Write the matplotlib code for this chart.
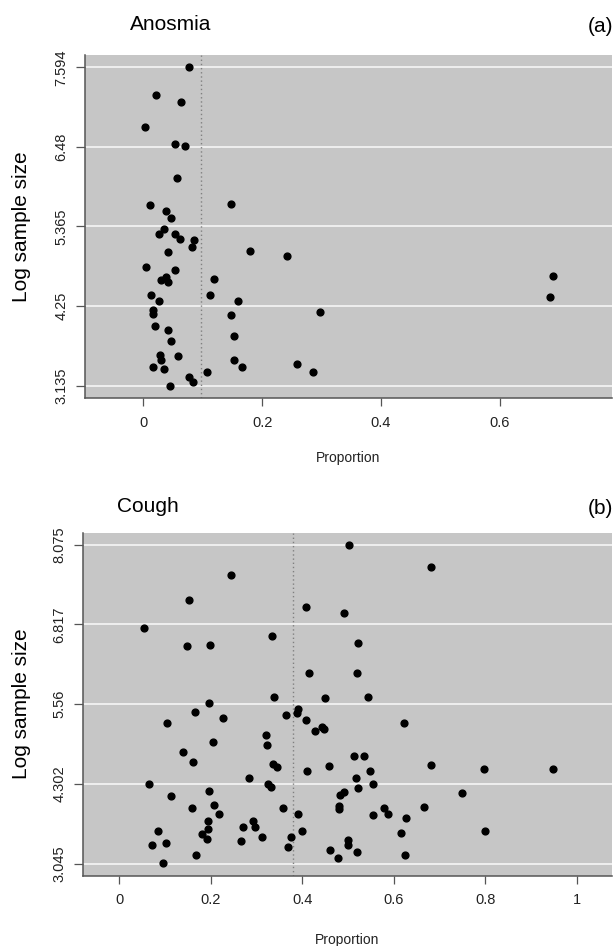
import matplotlib
matplotlib.use("Agg")
import matplotlib.pyplot as plt

plt.rcParams['font.family'] = ['Liberation Sans', 'DejaVu Sans']

# ---------------- data ----------------
anosmia_x = [0.0776, 0.0211, 0.0637, 0.0026, 0.0537, 0.0702, 0.0569, 0.148, 0.0105, 0.0378,
             0.047, 0.035, 0.0265, 0.053, 0.0623, 0.0855, 0.0822, 0.041, 0.1796, 0.242,
             0.0046, 0.053, 0.0298, 0.039, 0.0418, 0.119, 0.6895, 0.684, 0.0131, 0.0271,
             0.112, 0.160, 0.0165, 0.0171, 0.148, 0.2976, 0.0191, 0.041, 0.1524, 0.047,
             0.0285, 0.0577, 0.0305, 0.1524, 0.0165, 0.035, 0.167, 0.259, 0.2865, 0.108,
             0.0776, 0.0835, 0.0444]
anosmia_y = [7.594, 7.206, 7.104, 6.758, 6.524, 6.492, 6.048, 5.684, 5.665, 5.581,
             5.479, 5.333, 5.258, 5.263, 5.193, 5.179, 5.071, 5.001, 5.025, 4.955,
             4.801, 4.754, 4.609, 4.656, 4.586, 4.623, 4.665, 4.376, 4.400, 4.316,
             4.400, 4.325, 4.189, 4.133, 4.123, 4.165, 3.969, 3.909, 3.825, 3.760,
             3.559, 3.555, 3.489, 3.494, 3.401, 3.368, 3.401, 3.434, 3.331, 3.331,
             3.256, 3.181, 3.135]
anosmia_mean = 0.0967
anosmia_yticks = [3.135, 4.25, 5.365, 6.48, 7.594]
anosmia_yticklabels = ["3.135", "4.25", "5.365", "6.48", "7.594"]
anosmia_xticks = [0, 0.2, 0.4, 0.6]
anosmia_xticklabels = ["0", "0.2", "0.4", "0.6"]

cough_x = [0.5026, 0.681, 0.245, 0.154, 0.409, 0.492, 0.0548, 0.3335, 0.148, 0.199,
           0.523, 0.416, 0.5206, 0.3387, 0.451, 0.543, 0.197, 0.392, 0.389, 0.365,
           0.1655, 0.408, 0.228, 0.1045, 0.6218, 0.4288, 0.4434, 0.4478, 0.3207, 0.3233,
           0.2059, 0.1397, 0.161, 0.336, 0.3448, 0.4596, 0.5129, 0.5353, 0.4117, 0.549,
           0.681, 0.7977, 0.9478, 0.283, 0.518, 0.0659, 0.325, 0.331, 0.554, 0.5214,
           0.196, 0.4923, 0.4838, 0.7496, 0.114, 0.2074, 0.1595, 0.3592, 0.480, 0.480,
           0.5798, 0.5867, 0.6655, 0.2177, 0.391, 0.5558, 0.628, 0.1946, 0.2923, 0.1946,
           0.270, 0.2967, 0.0857, 0.3989, 0.7993, 0.181, 0.193, 0.3122, 0.3747, 0.6166,
           0.2666, 0.500, 0.500, 0.0710, 0.1037, 0.3695, 0.4614, 0.5198, 0.1673, 0.6253,
           0.4776, 0.0952]
cough_y = [8.075, 7.728, 7.592, 7.208, 7.097, 7.003, 6.757, 6.631, 6.478, 6.494,
           6.525, 6.047, 6.047, 5.678, 5.662, 5.673, 5.574, 5.478, 5.422, 5.384,
           5.437, 5.311, 5.336, 5.258, 5.269, 5.142, 5.201, 5.169, 5.079, 4.917,
           4.958, 4.800, 4.654, 4.622, 4.564, 4.586, 4.743, 4.743, 4.501, 4.512,
           4.606, 4.543, 4.543, 4.397, 4.397, 4.307, 4.307, 4.249, 4.307, 4.233,
           4.196, 4.181, 4.129, 4.160, 4.118, 3.976, 3.917, 3.917, 3.960, 3.913,
           3.928, 3.834, 3.933, 3.834, 3.834, 3.813, 3.771, 3.723, 3.723, 3.592,
           3.618, 3.618, 3.561, 3.561, 3.561, 3.507, 3.440, 3.471, 3.471, 3.529,
           3.403, 3.413, 3.345, 3.340, 3.372, 3.302, 3.261, 3.224, 3.182, 3.182,
           3.140, 3.050]
cough_mean = 0.381
cough_yticks = [3.045, 4.302, 5.56, 6.817, 8.075]
cough_yticklabels = ["3.045", "4.302", "5.56", "6.817", "8.075"]
cough_xticks = [0, 0.2, 0.4, 0.6, 0.8, 1.0]
cough_xticklabels = ["0", "0.2", "0.4", "0.6", "0.8", "1"]

W, H = 616, 946
fig = plt.figure(figsize=(W / 100, H / 100), dpi=100)

BG = "#c6c6c6"
SPINE = "#555555"


def px_rect(left, top, right, bottom):
    return [left / W, 1 - bottom / H, (right - left) / W, (bottom - top) / H]


def panel(rect, xs, ys, mean, yticks, ylabels, xticks, xlabels, xlim, ylim):
    ax = fig.add_axes(rect)
    ax.set_facecolor(BG)
    ax.set_xlim(*xlim)
    ax.set_ylim(*ylim)
    for yt in yticks:
        ax.axhline(yt, color="#f2f2f2", lw=1.3, zorder=1)
    ax.axvline(mean, color="#808080", lw=1.0, ls=(0, (1, 2)), zorder=2)
    ax.plot(xs, ys, 'o', color="black", markersize=4.9, zorder=3)
    for s in ("top", "right"):
        ax.spines[s].set_visible(False)
    for s in ("left", "bottom"):
        ax.spines[s].set_color(SPINE)
        ax.spines[s].set_linewidth(1.1)
    ax.set_yticks(yticks)
    ax.set_yticklabels(ylabels, rotation=90, va="center", fontsize=10.5, color="#222222")
    ax.set_xticks(xticks)
    ax.set_xticklabels(xlabels, fontsize=10.5, color="#222222")
    ax.tick_params(axis="y", length=6.5, width=0.9, color=SPINE, pad=5.5)
    ax.tick_params(axis="x", length=5.8, width=0.9, color=SPINE, pad=7)
    return ax


# Panel (a)
axa = panel(px_rect(85.3, 55, 612, 398.3), anosmia_x, anosmia_y, anosmia_mean,
            anosmia_yticks, anosmia_yticklabels, anosmia_xticks, anosmia_xticklabels,
            (-0.0976, 0.789), (2.959, 7.766))
# Panel (b)
axb = panel(px_rect(83.3, 532.7, 612, 875.7), cough_x, cough_y, cough_mean,
            cough_yticks, cough_yticklabels, cough_xticks, cough_xticklabels,
            (-0.078, 1.077), (2.856, 8.264))

# Titles and panel letters
fig.text(130 / W, 1 - 25 / H, "Anosmia", fontsize=15, ha="left", va="center")
fig.text(613 / W, 1 - 27 / H, "(a)", fontsize=15, ha="right", va="center")
fig.text(117 / W, 1 - 507 / H, "Cough", fontsize=15, ha="left", va="center")
fig.text(613 / W, 1 - 508 / H, "(b)", fontsize=15, ha="right", va="center")

# Axis labels
fig.text(22 / W, 1 - 227 / H, "Log sample size", fontsize=15, rotation=90,
         ha="center", va="center")
fig.text(22 / W, 1 - 704 / H, "Log sample size", fontsize=15, rotation=90,
         ha="center", va="center")
fig.text(348.5 / W, 1 - 458 / H, "Proportion", fontsize=10, ha="center", va="center",
         color="#222222")
fig.text(347.5 / W, 1 - 940 / H, "Proportion", fontsize=10, ha="center", va="center",
         color="#222222")

fig.savefig("out.png", dpi=100)
